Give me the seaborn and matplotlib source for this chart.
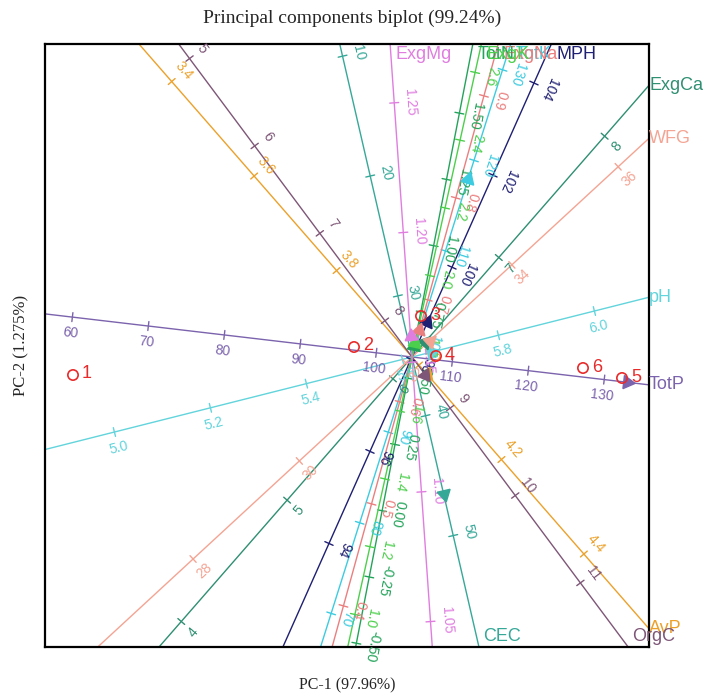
import numpy as np
import pandas as pd
import matplotlib
matplotlib.use("Agg")
import matplotlib.pyplot as plt
import seaborn as sns

# biplot axes (one per variable)
variables = ["TotP", "pH", "ExgCa", "WFG", "AvP", "OrgC", "CEC",
             "MPH", "TotK", "ExgNa", "TotN", "ExgK", "ExgMg"]
colors = ["#7b63ad", "#62d4dc", "#2f8f72", "#f4a493", "#eca12a", "#7e5677", "#36a898",
          "#1f1f73", "#3ccbe0", "#eb7f7f", "#23a35a", "#4ccf4c", "#e07ee0"]
# direction of the axis (deg), value at the origin, length of one unit on the axis
angles = [-6.7, 14.15, 48.9, 42.7, -48.9, -53.3, -77.0, 66.0, 72.5, 74.6, 79.0, 77.5, 94.0]
centre_values = [104.7, 5.62, 6.18, 32.12, 3.983, 8.415, 35.1, 98.05, 98.3, 0.644, 0.58, 1.76, 1.152]
unit_lengths = [0.0765, 4.95, 1.61, 0.723, 6.27, 1.09, 0.123, 0.504, 0.095, 10.58, 2.70, 3.47, 26.0]
tick_values = [
    [60, 70, 80, 90, 100, 110, 120, 130],
    [5.0, 5.2, 5.4, 5.6, 5.8, 6.0],
    [4, 5, 6, 7, 8],
    [28, 30, 32, 34, 36],
    [3.4, 3.6, 3.8, 4.0, 4.2, 4.4],
    [5, 6, 7, 8, 9, 10, 11],
    [10, 20, 30, 40, 50],
    [94, 96, 98, 100, 102, 104],
    [70, 80, 90, 100, 110, 120, 130],
    [0.4, 0.5, 0.6, 0.7, 0.8, 0.9],
    [-0.5, -0.25, 0.0, 0.25, 0.5, 0.75, 1.0, 1.25, 1.5],
    [1.0, 1.2, 1.4, 1.6, 1.8, 2.0, 2.2, 2.4, 2.6],
    [1.05, 1.10, 1.15, 1.20, 1.25],
]
tick_decimals = [0, 1, 0, 0, 1, 0, 0, 0, 0, 1, 2, 1, 2]
arrow_values = [133, 5.66, 6.3, 32.45, 4.02, 8.62, 46.5, 98.8, 118, 0.67, 0.62, 1.8, 1.16]

# sample scores
samples = ["1", "2", "3", "4", "5", "6"]
pc1 = [-3.39, -0.58, 0.09, 0.24, 2.10, 1.71]
pc2 = [-0.18, 0.10, 0.41, 0.01, -0.21, -0.11]

xlim = (-3.67, 2.37)
ylim = (-2.90, 3.13)

sns.set_style("white")
fig = plt.figure(figsize=(7.09, 6.96), dpi=100)
ax = fig.add_axes([45 / 709, 49 / 696, 604 / 709, 603 / 696])
ax.set_xlim(*xlim)
ax.set_ylim(*ylim)

sans = "Liberation Sans"
serif = "Liberation Serif"


def t_range(ux, uy):
    lo, hi, edge = -np.inf, np.inf, None
    for u, (a, b), e in ((ux, xlim, "x"), (uy, ylim, "y")):
        if abs(u) < 1e-9:
            continue
        t1, t2 = sorted((a / u, b / u))
        lo = max(lo, t1)
        if t2 < hi:
            hi, edge = t2, e
    return lo, hi, edge


for i, name in enumerate(variables):
    th = np.deg2rad(angles[i])
    ux, uy = np.cos(th), np.sin(th)
    col = colors[i]
    lo, hi, edge = t_range(ux, uy)
    ax.plot([lo * ux, hi * ux], [lo * uy, hi * uy], color=col, lw=1.0, zorder=2)

    side = -1 if angles[i] > -30 else 1
    px, py = -uy * side, ux * side
    rot = angles[i] if -90 < angles[i] < 50 else angles[i] - 180
    for v in tick_values[i]:
        t = (v - centre_values[i]) * unit_lengths[i]
        if not (lo < t < hi):
            continue
        x, y = t * ux, t * uy
        ax.plot([x - 0.045 * px, x + 0.045 * px], [y - 0.045 * py, y + 0.045 * py],
                color=col, lw=1.0, zorder=2)
        ax.text(x + 0.16 * px, y + 0.16 * py, f"{v:.{tick_decimals[i]}f}", color=col,
                fontsize=10, family=sans, rotation=rot, rotation_mode="anchor",
                ha="center", va="center", zorder=3)

    # arrow head
    ta = (arrow_values[i] - centre_values[i]) * unit_lengths[i]
    ax.plot(ta * ux, ta * uy, marker=(3, 0, angles[i] - 90), color=col,
            markersize=11, zorder=4)

    # variable label at the end of the axis
    ex, ey = hi * ux, hi * uy
    if edge == "x":
        ax.text(ex, ey, name, color=col, fontsize=13, family=sans,
                ha="left", va="center", clip_on=False)
    elif ey > 0:
        ax.text(ex + 0.05, ey - 0.02, name, color=col, fontsize=13, family=sans,
                ha="left", va="top", clip_on=False)
    else:
        ax.text(ex + 0.04, ey + 0.02, name, color=col, fontsize=13, family=sans,
                ha="left", va="bottom", clip_on=False)

pts = pd.DataFrame({"PC1": pc1, "PC2": pc2, "label": samples})
sns.scatterplot(data=pts, x="PC1", y="PC2", ax=ax, s=55, facecolor="none",
                edgecolor="#e82a2a", linewidth=1.2, zorder=5, legend=False)
for _, r in pts.iterrows():
    ax.text(r.PC1 + 0.09, r.PC2 + 0.01, r.label, color="#e82a2a", fontsize=13,
            family=sans, ha="left", va="center", zorder=5)

ax.set_xticks([])
ax.set_yticks([])
for s in ax.spines.values():
    s.set_visible(True)
    s.set_color("black")
    s.set_linewidth(1.6)

ax.set_xlabel("PC-1 (97.96%)", family=serif, fontsize=11.5)
ax.set_ylabel("PC-2 (1.275%)", family=serif, fontsize=12)
ax.xaxis.set_label_coords(0.5, -0.05)
ax.yaxis.set_label_coords(-0.026, 0.5)
fig.text(352 / 709, 1 - 18 / 696, "Principal components biplot (99.24%)",
         family=serif, fontsize=14, ha="center", va="center")

fig.savefig("out.png", dpi=100)
